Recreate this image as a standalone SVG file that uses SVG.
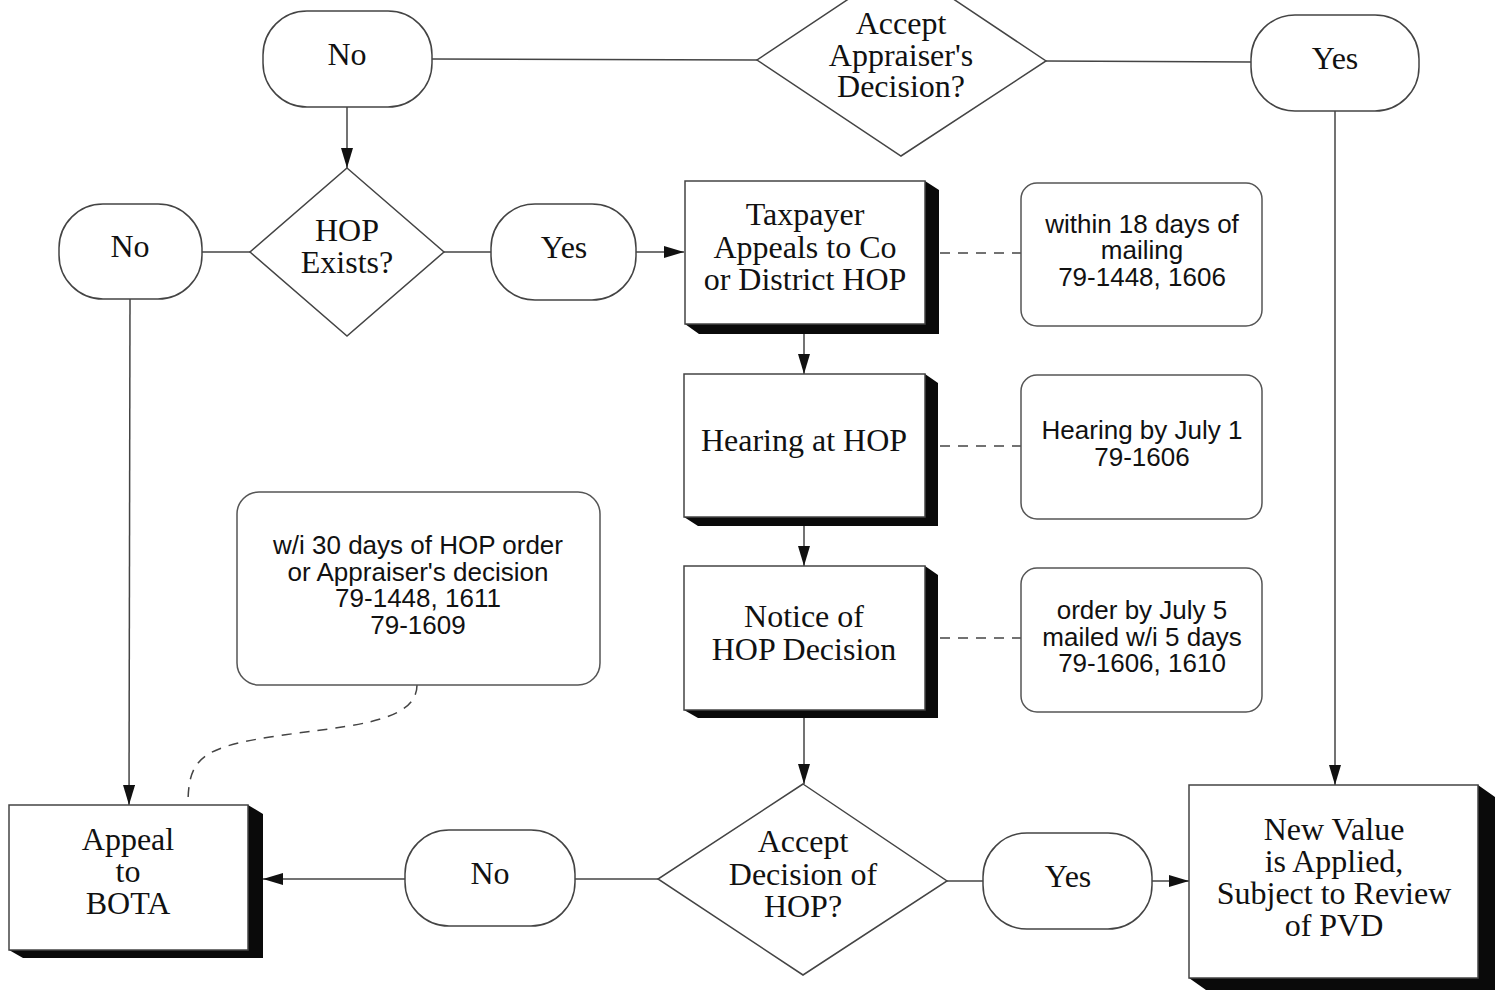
<svg xmlns="http://www.w3.org/2000/svg" width="1502" height="993" viewBox="0 0 1502 993">
<defs>
<marker id="arr" markerUnits="userSpaceOnUse" markerWidth="22" markerHeight="14" refX="20" refY="6" orient="auto">
<path d="M0,0 L20,6 L0,12 z" fill="#111"/>
</marker>
<style>
.ln{stroke:#444;stroke-width:1.5;fill:none}
.dash{stroke:#444;stroke-width:1.5;fill:none;stroke-dasharray:10,8}
.sh{fill:#0a0a0a}
.bx{fill:#fff;stroke:#444;stroke-width:1.5}
.tm{fill:#fff;stroke:#444;stroke-width:1.5}
.nt{fill:#fff;stroke:#555;stroke-width:1.5}
.st{font-family:"Liberation Serif","Times New Roman",serif;font-size:32px;fill:#111;text-anchor:middle}
.ss{font-family:"Liberation Sans",Arial,sans-serif;font-size:26px;fill:#111;text-anchor:middle}
</style>
</defs>
<rect width="1502" height="993" fill="#fff"/>
<g id="connectors">
<path class="ln" d="M432,59 L757,60"/>
<path class="ln" d="M1046,61 L1251,62"/>
<path class="ln" d="M347,107 L347,168" marker-end="url(#arr)"/>
<path class="ln" d="M202,252 L250,252"/>
<path class="ln" d="M444,252 L491,252"/>
<path class="ln" d="M636,252 L684,252" marker-end="url(#arr)"/>
<path class="ln" d="M804,334 L804,374" marker-end="url(#arr)"/>
<path class="ln" d="M804,526 L804,566" marker-end="url(#arr)"/>
<path class="ln" d="M804,718 L804,784" marker-end="url(#arr)"/>
<path class="ln" d="M658,879 L575,879"/>
<path class="ln" d="M405,879 L263,879" marker-end="url(#arr)"/>
<path class="ln" d="M947,881 L983,881"/>
<path class="ln" d="M1152,881 L1189,881" marker-end="url(#arr)"/>
<path class="ln" d="M130,299 L129,805" marker-end="url(#arr)"/>
<path class="ln" d="M1335,111 L1335,785" marker-end="url(#arr)"/>
<path class="dash" d="M940,253 L1021,253"/>
<path class="dash" d="M940,446 L1021,446"/>
<path class="dash" d="M940,638 L1021,638"/>
<path class="dash" d="M417,685 C417,725 340,726 270,737 C200,748 188,760 188,805"/>
</g>
<g id="no-top">
<rect class="tm" x="263" y="11" width="169" height="96" rx="44" ry="44"/>
<text class="st" x="347" y="65">No</text>
</g>
<g id="accept-appraiser">
<polygon class="bx" points="901,-36 1046,61 901,156 757,60"/>
<text class="st" x="901" y="34">Accept</text>
<text class="st" x="901" y="66">Appraiser's</text>
<text class="st" x="901" y="97">Decision?</text>
</g>
<g id="yes-top">
<rect class="tm" x="1251" y="15" width="168" height="96" rx="44" ry="44"/>
<text class="st" x="1335" y="69">Yes</text>
</g>
<g id="hop-exists">
<polygon class="bx" points="347,168 444,252 347,336 250,252"/>
<text class="st" x="347" y="241">HOP</text>
<text class="st" x="347" y="273">Exists?</text>
</g>
<g id="no-left">
<rect class="tm" x="59" y="204" width="143" height="95" rx="44" ry="44"/>
<text class="st" x="130" y="257">No</text>
</g>
<g id="yes-mid">
<rect class="tm" x="491" y="204" width="145" height="96" rx="44" ry="44"/>
<text class="st" x="564" y="258">Yes</text>
</g>
<g id="taxpayer-appeals">
<polygon class="sh" points="925,181 939,190 939,334 699,334 685,324 925,324"/>
<rect class="bx" x="685" y="181" width="240" height="143"/>
<text class="st" x="805" y="225">Taxpayer</text>
<text class="st" x="805" y="258">Appeals to Co</text>
<text class="st" x="805" y="290">or District HOP</text>
</g>
<g id="hearing">
<polygon class="sh" points="925,374 938,383 938,526 698,526 684,517 925,517"/>
<rect class="bx" x="684" y="374" width="241" height="143"/>
<text class="st" x="804" y="451">Hearing at HOP</text>
</g>
<g id="notice">
<polygon class="sh" points="925,566 938,575 938,718 698,718 684,710 925,710"/>
<rect class="bx" x="684" y="566" width="241" height="144"/>
<text class="st" x="804" y="627">Notice of</text>
<text class="st" x="804" y="660">HOP Decision</text>
</g>
<g id="note-18days">
<rect class="nt" x="1021" y="183" width="241" height="143" rx="16" ry="16"/>
<text class="ss" x="1142" y="233">within 18 days of</text>
<text class="ss" x="1142" y="259">mailing</text>
<text class="ss" x="1142" y="286">79-1448, 1606</text>
</g>
<g id="note-july1">
<rect class="nt" x="1021" y="375" width="241" height="144" rx="16" ry="16"/>
<text class="ss" x="1142" y="439">Hearing by July 1</text>
<text class="ss" x="1142" y="466">79-1606</text>
</g>
<g id="note-july5">
<rect class="nt" x="1021" y="568" width="241" height="144" rx="16" ry="16"/>
<text class="ss" x="1142" y="619">order by July 5</text>
<text class="ss" x="1142" y="646">mailed w/i 5 days</text>
<text class="ss" x="1142" y="672">79-1606, 1610</text>
</g>
<g id="note-30days">
<rect class="nt" x="237" y="492" width="363" height="193" rx="22" ry="22"/>
<text class="ss" x="418" y="554">w/i 30 days of HOP order</text>
<text class="ss" x="418" y="581">or Appraiser's decision</text>
<text class="ss" x="418" y="607">79-1448, 1611</text>
<text class="ss" x="418" y="634">79-1609</text>
</g>
<g id="accept-hop">
<polygon class="bx" points="803,784 947,881 803,975 658,879"/>
<text class="st" x="803" y="852">Accept</text>
<text class="st" x="803" y="885">Decision of</text>
<text class="st" x="803" y="917">HOP?</text>
</g>
<g id="no-bottom">
<rect class="tm" x="405" y="830" width="170" height="96" rx="44" ry="44"/>
<text class="st" x="490" y="884">No</text>
</g>
<g id="yes-bottom">
<rect class="tm" x="983" y="833" width="169" height="96" rx="44" ry="44"/>
<text class="st" x="1068" y="887">Yes</text>
</g>
<g id="appeal-bota">
<polygon class="sh" points="248,805 263,814 263,958 23,958 9,950 248,950"/>
<rect class="bx" x="9" y="805" width="239" height="145"/>
<text class="st" x="128" y="850">Appeal</text>
<text class="st" x="128" y="882">to</text>
<text class="st" x="128" y="914">BOTA</text>
</g>
<g id="new-value">
<polygon class="sh" points="1478,785 1495,797 1495,990 1206,990 1189,978 1478,978"/>
<rect class="bx" x="1189" y="785" width="289" height="193"/>
<text class="st" x="1334" y="840">New Value</text>
<text class="st" x="1334" y="872">is Applied,</text>
<text class="st" x="1334" y="904">Subject to Review</text>
<text class="st" x="1334" y="936">of PVD</text>
</g>
</svg>
